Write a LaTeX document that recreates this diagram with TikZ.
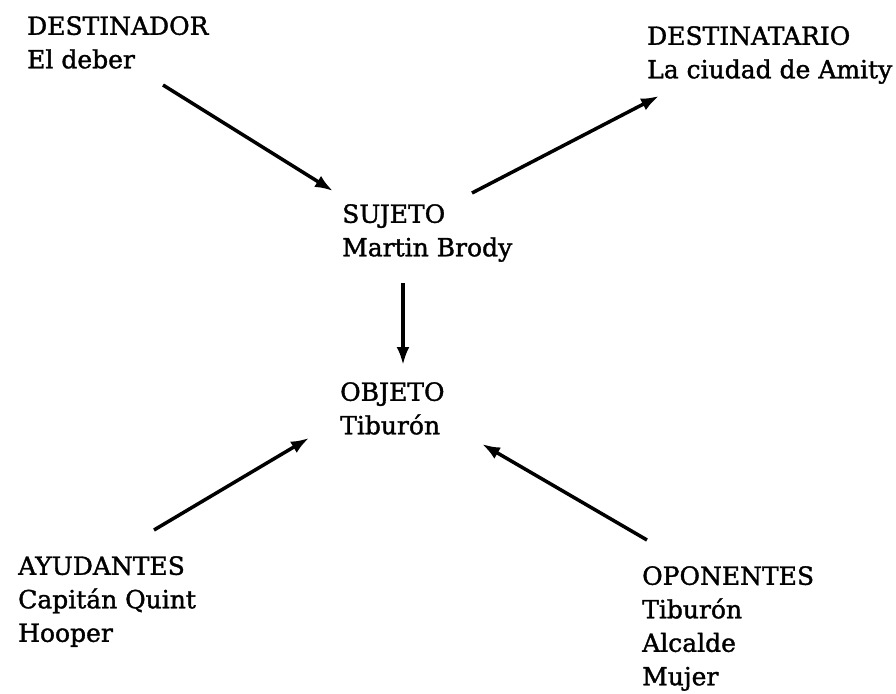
\documentclass[tikz,border=0pt]{standalone}
\usepackage{fontspec}
\setmainfont{DejaVu Serif}
\newfontfamily\actfont{DejaVu Serif}[FakeBold=1.4]
\usetikzlibrary{arrows.meta}
\begin{document}
\begin{tikzpicture}[x=1pt,y=-1pt,
  actant/.style={anchor=north west, inner sep=0pt, align=left,
    font=\actfont\fontsize{25}{33.5}\selectfont},
  link/.style={line width=3.5pt, -{Latex[length=18pt,width=13pt]}}]
\useasboundingbox (0,0) rectangle (896,693);
% actants (anchored at the cap line of their first row)
\node[actant] (dor) at (27,16) {DESTINADOR\\El deber};
\node[actant] (tar) at (647,26) {DESTINATARIO\\La ciudad de Amity};
\node[actant] (suj) at (342,204) {SUJETO\\Martin Brody};
\node[actant] (obj) at (340,382) {OBJETO\\Tiburón};
\node[actant] (ayu) at (18,556) {AYUDANTES\\Capitán Quint\\Hooper};
\node[actant] (opo) at (642,566) {OPONENTES\\Tiburón\\Alcalde\\Mujer};
% arrow ends
\coordinate (dor-out) at (163,85);
\coordinate (suj-in)  at (333,191);
\coordinate (suj-out) at (472,193);
\coordinate (tar-in)  at (659,96);
\coordinate (suj-dn)  at (403,283);
\coordinate (obj-in)  at (403,365);
\coordinate (ayu-out) at (154,530);
\coordinate (obj-l)   at (309,438);
\coordinate (opo-out) at (647,540);
\coordinate (obj-r)   at (482,444);
% relations
\draw[link] (dor-out) -- (suj-in);
\draw[link] (suj-out) -- (tar-in);
\draw[link] (suj-dn) -- (obj-in);
\draw[link] (ayu-out) -- (obj-l);
\draw[link] (opo-out) -- (obj-r);
\end{tikzpicture}
\end{document}
